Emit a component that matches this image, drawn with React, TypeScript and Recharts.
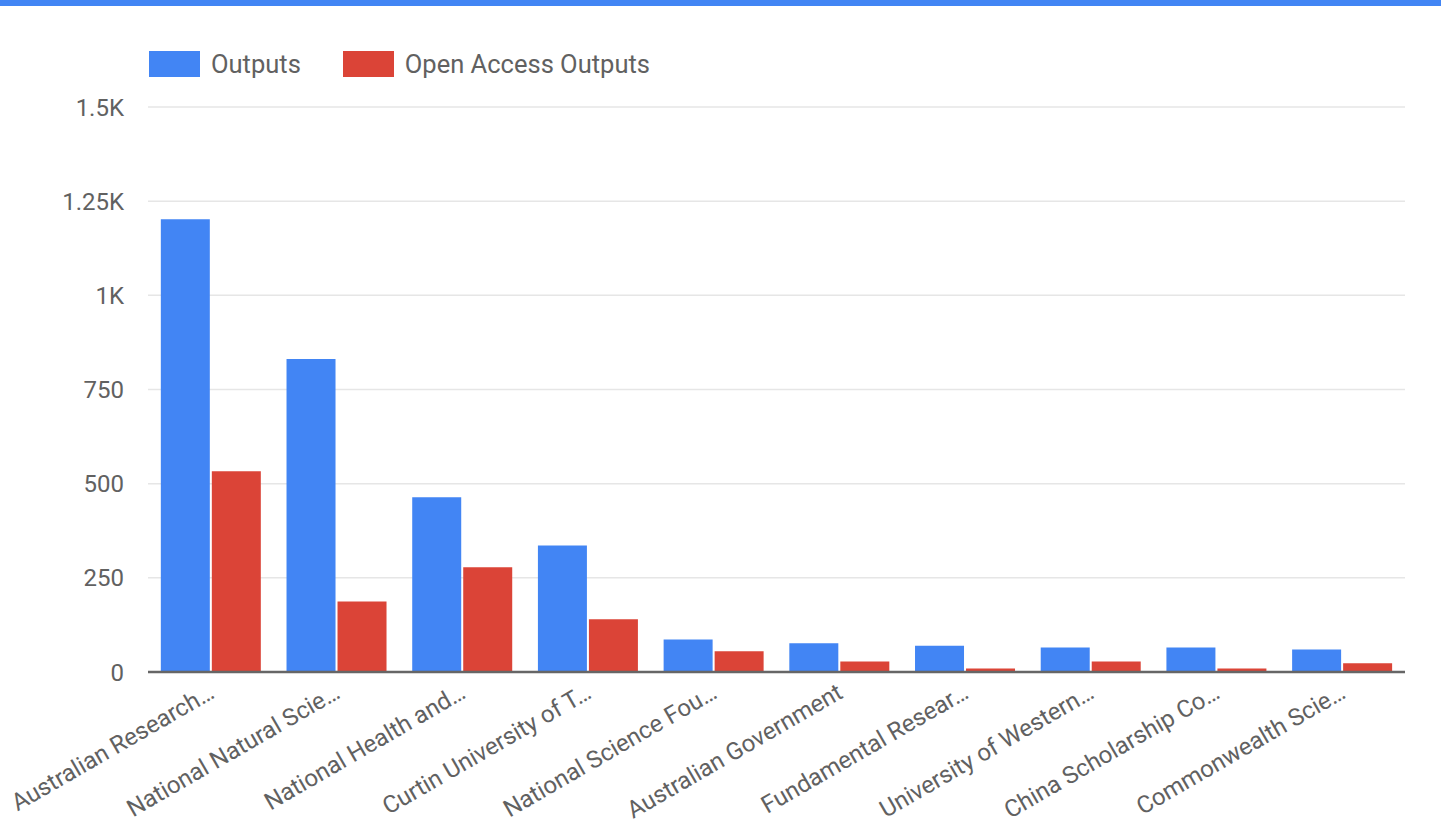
import React from 'react';
import { BarChart, Bar, XAxis, YAxis, CartesianGrid } from 'recharts';

const funders = [
  'Australian Research…',
  'National Natural Scie…',
  'National Health and…',
  'Curtin University of T…',
  'National Science Fou…',
  'Australian Government',
  'Fundamental Resear…',
  'University of Western…',
  'China Scholarship Co…',
  'Commonwealth Scie…',
];
const outputs = [1202, 831, 464, 336, 86, 76, 70, 65, 65, 60];
const openAccessOutputs = [533, 187, 278, 140, 55, 28, 9, 28, 9, 23];
const yTicks = [0, 250, 500, 750, 1000, 1250, 1500];

const BLUE = '#4285f4';
const RED = '#db4437';
const TEXT = '#616161';

const data = funders.map((name, i) => ({
  name,
  outputs: outputs[i],
  oa: openAccessOutputs[i],
}));

const fmtY = (v: number) => (v >= 1000 ? `${v / 1000}K` : `${v}`);

const XTick = (props: any) => {
  const { x, y, payload } = props;
  return (
    <g transform={`translate(${x + 5},${y + 17})`}>
      <text
        x={0}
        y={0}
        transform="rotate(-30)"
        textAnchor="end"
        fill={TEXT}
        fontSize={24}
        fontFamily="Roboto"
      >
        {payload.value}
      </text>
    </g>
  );
};

const legendItems = [
  { label: 'Outputs', color: BLUE },
  { label: 'Open Access Outputs', color: RED },
];

const App: React.FC = () => {
  return (
    <div style={{ position: 'absolute', left: 0, top: 0, width: 1441, height: 828, background: '#fff' }}>
      <div style={{ position: 'absolute', left: 0, top: 0, width: 1441, height: 6, background: BLUE }} />
      {/* legend */}
      <div style={{ position: 'absolute', left: 149, top: 51, display: 'flex', alignItems: 'center', height: 26 }}>
        {legendItems.map((it) => (
          <div key={it.label} style={{ display: 'flex', alignItems: 'center', marginRight: 42 }}>
            <div style={{ width: 51, height: 26, background: it.color }} />
            <span style={{ marginLeft: 11, fontSize: 25.5, lineHeight: '26px', color: TEXT, fontFamily: 'Roboto' }}>
              {it.label}
            </span>
          </div>
        ))}
      </div>
      <BarChart
        width={1441}
        height={828}
        data={data}
        margin={{ top: 107, right: 36, bottom: 6, left: 0 }}
        barCategoryGap="10.2%"
        barGap={2}
      >
        <CartesianGrid vertical={false} stroke="#e6e6e6" strokeWidth={1.5} />
        <XAxis
          dataKey="name"
          interval={0}
          height={150}
          tickLine={false}
          axisLine={{ stroke: '#666', strokeWidth: 2.5 }}
          tick={<XTick />}
        />
        <YAxis
          width={148}
          domain={[0, 1500]}
          ticks={yTicks}
          tickFormatter={fmtY}
          axisLine={false}
          tickLine={false}
          tickMargin={18}
          tick={{ fill: TEXT, fontSize: 24, fontFamily: 'Roboto' }}
        />
        <Bar dataKey="outputs" name="Outputs" fill={BLUE} isAnimationActive={false} />
        <Bar dataKey="oa" name="Open Access Outputs" fill={RED} isAnimationActive={false} />
      </BarChart>
    </div>
  );
};

export default App;
